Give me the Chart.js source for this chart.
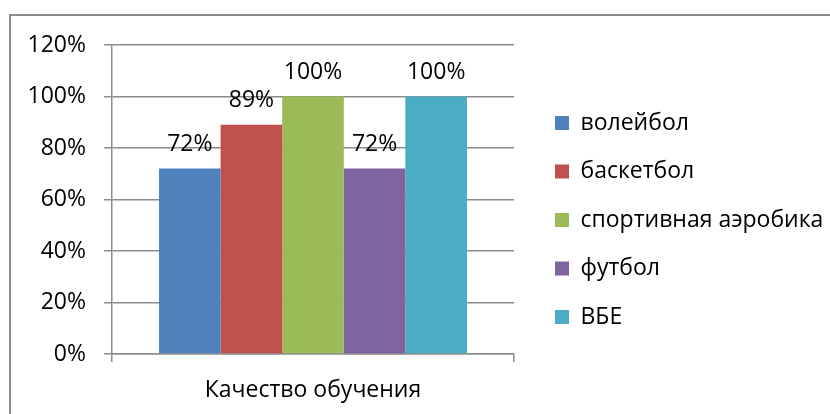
<!DOCTYPE html>
<html>
<head>
<meta charset="utf-8">
<script src="https://cdn.jsdelivr.net/npm/chart.js@4"></script>
<style>
  html, body { margin: 0; padding: 0; background: #fff; overflow: hidden; }
  #wrap { position: relative; width: 830px; height: 414px; }
  #frame { position: absolute; left: 9px; top: 14px; width: 900px; height: 500px;
           border-left: 2px solid #8c8c8c; border-top: 2px solid #8c8c8c; }
  canvas { position: absolute; left: 0; top: 0; }
</style>
</head>
<body>
<div id="wrap">
  <div id="frame"></div>
  <canvas id="chart" width="830" height="414"></canvas>
</div>
<script>
const categories = ['Качество обучения'];
const seriesNames = ['волейбол', 'баскетбол', 'спортивная аэробика', 'футбол', 'ВБЕ'];
const seriesValues = [[72], [89], [100], [72], [100]];
const seriesColors = ['#4F81BD', '#C0504D', '#9BBB59', '#8064A2', '#4BACC6'];
const yTicks = [0, 20, 40, 60, 80, 100, 120];

const FONT = '"Open Sans", "Noto Sans", sans-serif';
const FONT_SIZE = 23;
const AXIS_GRAY = '#8c8c8c';
const LEGEND_PAD = 25.5;

// value labels above each bar
const barLabels = {
    id: 'barLabels',
    afterDatasetsDraw(chart) {
        const ctx = chart.ctx;
        ctx.save();
        ctx.font = FONT_SIZE + 'px ' + FONT;
        ctx.fillStyle = '#000';
        ctx.textAlign = 'center';
        ctx.textBaseline = 'alphabetic';
        chart.data.datasets.forEach((ds, i) => {
            chart.getDatasetMeta(i).data.forEach((bar, j) => {
                ctx.fillText(ds.data[j] + '%', bar.x, bar.y - 18);
            });
        });
        ctx.restore();
    }
};

// fixed legend box, placed like the Excel one
const legendPlace = {
    id: 'legendPlace',
    beforeLayout(chart) {
        const lg = chart.legend;
        if (lg && !lg._fixed) {
            const fit = lg.fit.bind(lg);
            lg.fit = function () { fit(); this.width = 316; };
            lg._fixed = true;
        }
    },
    afterLayout(chart) {
        const lg = chart.legend;
        const w = lg.width, h = lg.height;
        lg.left = 555 - LEGEND_PAD; lg.right = lg.left + w;
        lg.top = 123 - LEGEND_PAD - FONT_SIZE / 2; lg.bottom = lg.top + h;
    }
};

const ctx = document.getElementById('chart').getContext('2d');

new Chart(ctx, {
    type: 'bar',
    data: {
        labels: categories,
        datasets: seriesNames.map((name, i) => ({
            label: name,
            data: seriesValues[i],
            backgroundColor: seriesColors[i],
            borderWidth: 0,
            barPercentage: 1,
            categoryPercentage: 0.766
        }))
    },
    options: {
        responsive: false,
        animation: false,
        devicePixelRatio: 1,
        layout: { padding: { left: 0, top: 45, right: 0, bottom: 0 } },
        scales: {
            x: {
                afterFit: s => { s.height = 60; },
                grid: { display: true, drawOnChartArea: false, tickLength: 8, color: AXIS_GRAY, lineWidth: 1.5 },
                border: { display: true, color: AXIS_GRAY, width: 1.5 },
                ticks: { color: '#000', padding: 15, font: { family: FONT, size: FONT_SIZE } }
            },
            y: {
                min: 0,
                max: 120,
                afterFit: s => { s.width = 112; },
                afterBuildTicks: s => { s.ticks = yTicks.map(v => ({ value: v })); },
                grid: { color: AXIS_GRAY, lineWidth: 1.5, tickLength: 8 },
                border: { display: true, color: AXIS_GRAY, width: 1.5 },
                ticks: {
                    color: '#000',
                    padding: 18,
                    font: { family: FONT, size: FONT_SIZE },
                    callback: v => v + '%'
                }
            }
        },
        plugins: {
            legend: {
                position: 'right',
                align: 'start',
                labels: {
                    boxWidth: 14,
                    boxHeight: 14,
                    padding: LEGEND_PAD,
                    color: '#000',
                    font: { family: FONT, size: FONT_SIZE }
                }
            },
            tooltip: { enabled: false }
        }
    },
    plugins: [barLabels, legendPlace]
});
</script>
</body>
</html>
